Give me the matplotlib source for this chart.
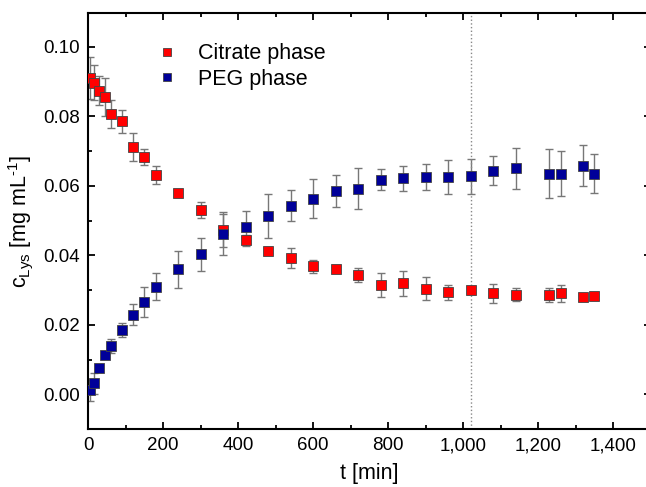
import matplotlib.pyplot as plt
from matplotlib.ticker import MultipleLocator, FuncFormatter

plt.rcParams['font.family'] = ['Liberation Sans', 'DejaVu Sans']
plt.rcParams['mathtext.fontset'] = 'custom'
plt.rcParams['mathtext.rm'] = 'Liberation Sans'
plt.rcParams['mathtext.it'] = 'Liberation Sans:italic'

# time points [min]
t = [5, 15, 30, 45, 60, 90, 120, 150, 180, 240, 300, 360, 420, 480, 540, 600,
     660, 720, 780, 840, 900, 960, 1020, 1080, 1140, 1230, 1260, 1320, 1350]

# citrate phase
citrate = [0.0910, 0.0897, 0.0873, 0.0855, 0.0807, 0.0786, 0.0712, 0.0682, 0.0631,
           0.0579, 0.0530, 0.0474, 0.0443, 0.0413, 0.0392, 0.0368, 0.0361, 0.0342,
           0.0315, 0.0319, 0.0304, 0.0293, 0.0299, 0.0290, 0.0287, 0.0285, 0.0290,
           0.0281, 0.0283]
citrate_err = [0.0060, 0.0050, 0.0042, 0.0055, 0.0040, 0.0033, 0.0040, 0.0023, 0.0027,
               0.0010, 0.0023, 0.0050, 0.0015, 0.0010, 0.0028, 0.0018, 0.0010, 0.0020,
               0.0035, 0.0035, 0.0032, 0.0022, 0.0010, 0.0026, 0.0020, 0.0020, 0.0024,
               0.0005, 0.0008]

# PEG phase
peg = [0.0012, 0.0031, 0.0076, 0.0113, 0.0138, 0.0186, 0.0229, 0.0266, 0.0310,
       0.0359, 0.0403, 0.0460, 0.0481, 0.0512, 0.0543, 0.0563, 0.0585, 0.0592,
       0.0617, 0.0621, 0.0625, 0.0625, 0.0627, 0.0643, 0.0650, 0.0635, 0.0635,
       0.0658, 0.0635]
peg_err = [0.0030, 0.0030, 0.0010, 0.0010, 0.0020, 0.0020, 0.0030, 0.0043, 0.0040,
           0.0054, 0.0048, 0.0060, 0.0046, 0.0063, 0.0044, 0.0056, 0.0047, 0.0059,
           0.0030, 0.0036, 0.0037, 0.0050, 0.0050, 0.0042, 0.0060, 0.0070, 0.0064,
           0.0060, 0.0056]

fig = plt.figure(figsize=(6.46, 4.87), dpi=100)
ax = fig.add_axes([88 / 646, 1 - 429 / 487, 563 / 646, (429 - 12.7) / 487])

err_kw = dict(fmt='none', ecolor='#777777', elinewidth=1, capsize=3, capthick=1)
ax.errorbar(t, citrate, yerr=citrate_err, **err_kw)
ax.errorbar(t, peg, yerr=peg_err, **err_kw)
ax.plot(t, citrate, 's', color='#ff0000', mec='#444444', mew=0.6, ms=7.5,
        label='Citrate phase', zorder=3)
ax.plot(t, peg, 's', color='#000099', mec='#444444', mew=0.6, ms=7.5,
        label='PEG phase', zorder=3)

ax.axvline(1020, color='#888888', ls=':', lw=1)

ax.set_xlim(0, 1501)
ax.set_ylim(-0.01, 0.1098)
ax.xaxis.set_major_locator(MultipleLocator(200))
ax.xaxis.set_minor_locator(MultipleLocator(100))
ax.yaxis.set_major_locator(MultipleLocator(0.02))
ax.yaxis.set_minor_locator(MultipleLocator(0.01))
ax.xaxis.set_major_formatter(FuncFormatter(lambda v, p: f'{v:,.0f}'))
ax.yaxis.set_major_formatter(FuncFormatter(lambda v, p: f'{v:.2f}'))

ax.tick_params(which='both', direction='in', top=True, right=True,
               labelsize=13.5, width=1.3, pad=6)
ax.tick_params(which='major', length=5)
ax.tick_params(which='minor', length=3)
for s in ax.spines.values():
    s.set_linewidth(1.5)

ax.set_xlabel('t [min]', fontsize=15.5, labelpad=6)
ax.set_ylabel('c$_{\\mathrm{Lys}}$ [mg mL$^{\\mathrm{\u2010}1}$]', fontsize=15.5, labelpad=6)

ax.legend(loc='upper left', bbox_to_anchor=(0.086, 0.973), frameon=False,
          fontsize=15.5, handletextpad=0.95, labelspacing=0.2, markerscale=0.8,
          handlelength=1.0)

fig.savefig('out.png', dpi=100)
